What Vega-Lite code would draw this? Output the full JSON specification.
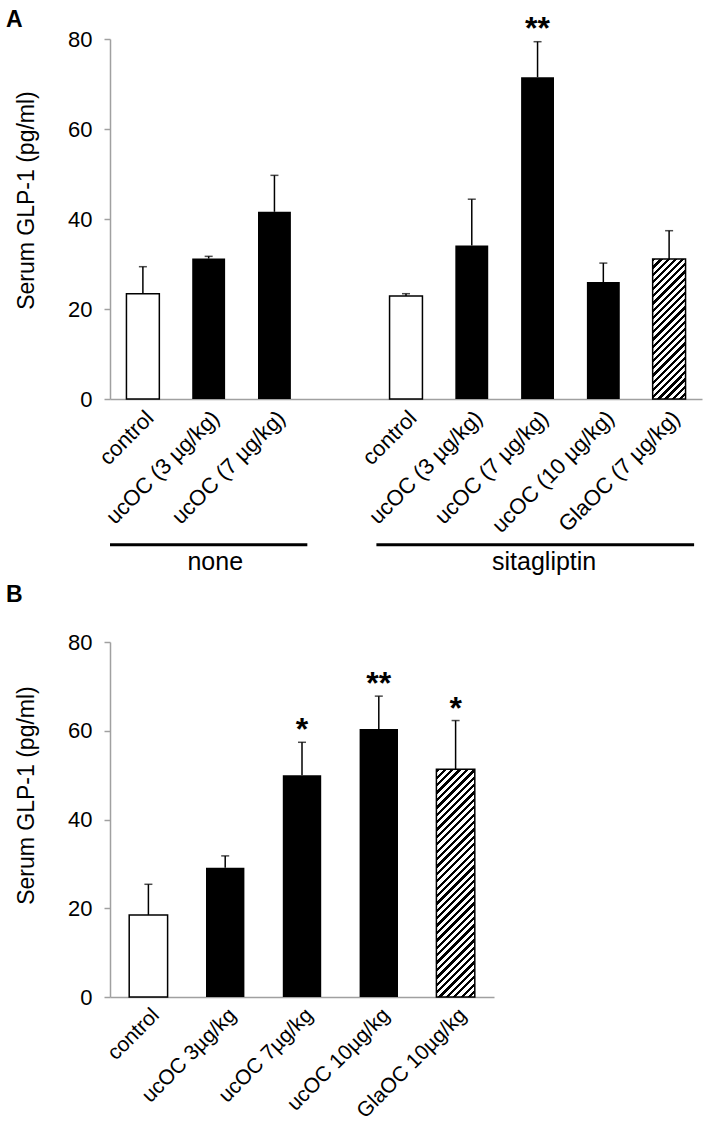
{
  "$schema": "https://vega.github.io/schema/vega-lite/v6.json",
  "padding": {"left": 6, "top": 8, "right": 5, "bottom": 5},
  "spacing": 9,
  "config": {
    "view": {"stroke": null},
    "font": "Liberation Sans",
    "axis": {
      "labelFont": "Liberation Sans", "titleFont": "Liberation Sans",
      "labelColor": "black", "titleColor": "black",
      "labelFontSize": 22, "titleFontSize": 23, "titleFontWeight": "normal",
      "domainColor": "#a0a0a0", "tickColor": "#a0a0a0",
      "domainWidth": 1.5, "tickWidth": 1.5, "grid": false
    },
    "title": {"font": "Liberation Sans", "fontSize": 23, "fontWeight": "bold", "color": "black"}
  },
  "datasets": {
    "panelA": [
      {"treatment": "none|control", "group": "none", "kind": "open", "mean": 23.4, "err": 29.4, "sig": ""},
      {"treatment": "none|ucOC (3 µg/kg)", "group": "none", "kind": "solid", "mean": 31.2, "err": 31.7, "sig": ""},
      {"treatment": "none|ucOC (7 µg/kg)", "group": "none", "kind": "solid", "mean": 41.6, "err": 49.7, "sig": ""},
      {"treatment": "sitagliptin|control", "group": "sitagliptin", "kind": "open", "mean": 22.9, "err": 23.4, "sig": ""},
      {"treatment": "sitagliptin|ucOC (3 µg/kg)", "group": "sitagliptin", "kind": "solid", "mean": 34.1, "err": 44.4, "sig": ""},
      {"treatment": "sitagliptin|ucOC (7 µg/kg)", "group": "sitagliptin", "kind": "solid", "mean": 71.5, "err": 79.4, "sig": "**"},
      {"treatment": "sitagliptin|ucOC (10 µg/kg)", "group": "sitagliptin", "kind": "solid", "mean": 26.0, "err": 30.2, "sig": ""},
      {"treatment": "sitagliptin|GlaOC (7 µg/kg)", "group": "sitagliptin", "kind": "hatched", "mean": 31.1, "err": 37.4, "sig": ""}
    ],
    "groupsA": [
      {"group": "none", "start": 0, "end": 3, "mid": 1.6},
      {"group": "sitagliptin", "start": 4.05, "end": 8.88, "mid": 6.6}
    ],
    "panelB": [
      {"treatment": "control", "kind": "open", "mean": 18.5, "err": 25.4, "sig": ""},
      {"treatment": "ucOC 3µg/kg", "kind": "solid", "mean": 29.1, "err": 31.8, "sig": ""},
      {"treatment": "ucOC 7µg/kg", "kind": "solid", "mean": 50.0, "err": 57.4, "sig": "*"},
      {"treatment": "ucOC 10µg/kg", "kind": "solid", "mean": 60.4, "err": 67.8, "sig": "**"},
      {"treatment": "GlaOC 10µg/kg", "kind": "hatched", "mean": 51.3, "err": 62.3, "sig": "*"}
    ]
  },
  "vconcat": [
    {
      "width": 592, "height": 360,
      "title": {"text": "A", "anchor": "start", "frame": "group", "dx": -104, "offset": -19},
      "layer": [
        {
          "data": {"name": "panelA"},
          "encoding": {
            "x": {
              "field": "treatment", "type": "nominal",
              "scale": {
                "domain": ["none|control", "none|ucOC (3 µg/kg)", "none|ucOC (7 µg/kg)", "gap|", "sitagliptin|control", "sitagliptin|ucOC (3 µg/kg)", "sitagliptin|ucOC (7 µg/kg)", "sitagliptin|ucOC (10 µg/kg)", "sitagliptin|GlaOC (7 µg/kg)"],
                "paddingInner": 0.5, "paddingOuter": 0.25
              },
              "axis": {
                "title": null, "labelAngle": -45, "ticks": false, "labelPadding": 8, "labelLimit": 400,
                "labelExpr": "substring(datum.value, indexof(datum.value, '|') + 1)"
              }
            },
            "y": {
              "field": "mean", "type": "quantitative",
              "scale": {"domain": [0, 80], "nice": false},
              "axis": {"title": "Serum GLP-1 (pg/ml)", "values": [0, 20, 40, 60, 80], "tickSize": 6, "labelPadding": 12, "titlePadding": 29, "titleY": 161}
            }
          },
          "layer": [
            {"transform": [{"filter": "datum.kind === 'open'"}], "mark": {"type": "bar", "fill": "white", "stroke": "black", "strokeWidth": 1.5}},
            {"transform": [{"filter": "datum.kind === 'solid'"}], "mark": {"type": "bar", "fill": "black"}},
            {"transform": [{"filter": "datum.kind === 'hatched'"}], "mark": {"type": "bar", "stroke": "black", "strokeWidth": 1.5,
              "fill": {"gradient": "linear", "x1": 0, "y1": 0, "x2": 0.2752, "y2": 1.1705, "stops": [
                {"offset": 0, "color": "#000"}, {"offset": 0.01875, "color": "#000"}, {"offset": 0.01875, "color": "#fff"}, {"offset": 0.041667, "color": "#fff"},
                {"offset": 0.041667, "color": "#000"}, {"offset": 0.060417, "color": "#000"}, {"offset": 0.060417, "color": "#fff"}, {"offset": 0.083333, "color": "#fff"},
                {"offset": 0.083333, "color": "#000"}, {"offset": 0.102083, "color": "#000"}, {"offset": 0.102083, "color": "#fff"}, {"offset": 0.125, "color": "#fff"},
                {"offset": 0.125, "color": "#000"}, {"offset": 0.14375, "color": "#000"}, {"offset": 0.14375, "color": "#fff"}, {"offset": 0.166667, "color": "#fff"},
                {"offset": 0.166667, "color": "#000"}, {"offset": 0.185417, "color": "#000"}, {"offset": 0.185417, "color": "#fff"}, {"offset": 0.208333, "color": "#fff"},
                {"offset": 0.208333, "color": "#000"}, {"offset": 0.227083, "color": "#000"}, {"offset": 0.227083, "color": "#fff"}, {"offset": 0.25, "color": "#fff"},
                {"offset": 0.25, "color": "#000"}, {"offset": 0.26875, "color": "#000"}, {"offset": 0.26875, "color": "#fff"}, {"offset": 0.291667, "color": "#fff"},
                {"offset": 0.291667, "color": "#000"}, {"offset": 0.310417, "color": "#000"}, {"offset": 0.310417, "color": "#fff"}, {"offset": 0.333333, "color": "#fff"},
                {"offset": 0.333333, "color": "#000"}, {"offset": 0.352083, "color": "#000"}, {"offset": 0.352083, "color": "#fff"}, {"offset": 0.375, "color": "#fff"},
                {"offset": 0.375, "color": "#000"}, {"offset": 0.39375, "color": "#000"}, {"offset": 0.39375, "color": "#fff"}, {"offset": 0.416667, "color": "#fff"},
                {"offset": 0.416667, "color": "#000"}, {"offset": 0.435417, "color": "#000"}, {"offset": 0.435417, "color": "#fff"}, {"offset": 0.458333, "color": "#fff"},
                {"offset": 0.458333, "color": "#000"}, {"offset": 0.477083, "color": "#000"}, {"offset": 0.477083, "color": "#fff"}, {"offset": 0.5, "color": "#fff"},
                {"offset": 0.5, "color": "#000"}, {"offset": 0.51875, "color": "#000"}, {"offset": 0.51875, "color": "#fff"}, {"offset": 0.541667, "color": "#fff"},
                {"offset": 0.541667, "color": "#000"}, {"offset": 0.560417, "color": "#000"}, {"offset": 0.560417, "color": "#fff"}, {"offset": 0.583333, "color": "#fff"},
                {"offset": 0.583333, "color": "#000"}, {"offset": 0.602083, "color": "#000"}, {"offset": 0.602083, "color": "#fff"}, {"offset": 0.625, "color": "#fff"},
                {"offset": 0.625, "color": "#000"}, {"offset": 0.64375, "color": "#000"}, {"offset": 0.64375, "color": "#fff"}, {"offset": 0.666667, "color": "#fff"},
                {"offset": 0.666667, "color": "#000"}, {"offset": 0.685417, "color": "#000"}, {"offset": 0.685417, "color": "#fff"}, {"offset": 0.708333, "color": "#fff"},
                {"offset": 0.708333, "color": "#000"}, {"offset": 0.727083, "color": "#000"}, {"offset": 0.727083, "color": "#fff"}, {"offset": 0.75, "color": "#fff"},
                {"offset": 0.75, "color": "#000"}, {"offset": 0.76875, "color": "#000"}, {"offset": 0.76875, "color": "#fff"}, {"offset": 0.791667, "color": "#fff"},
                {"offset": 0.791667, "color": "#000"}, {"offset": 0.810417, "color": "#000"}, {"offset": 0.810417, "color": "#fff"}, {"offset": 0.833333, "color": "#fff"},
                {"offset": 0.833333, "color": "#000"}, {"offset": 0.852083, "color": "#000"}, {"offset": 0.852083, "color": "#fff"}, {"offset": 0.875, "color": "#fff"},
                {"offset": 0.875, "color": "#000"}, {"offset": 0.89375, "color": "#000"}, {"offset": 0.89375, "color": "#fff"}, {"offset": 0.916667, "color": "#fff"},
                {"offset": 0.916667, "color": "#000"}, {"offset": 0.935417, "color": "#000"}, {"offset": 0.935417, "color": "#fff"}, {"offset": 0.958333, "color": "#fff"},
                {"offset": 0.958333, "color": "#000"}, {"offset": 0.977083, "color": "#000"}, {"offset": 0.977083, "color": "#fff"}, {"offset": 1, "color": "#fff"}
              ]}}},
            {"mark": {"type": "rule", "color": "black", "strokeWidth": 1.5}, "encoding": {"y2": {"field": "err"}}},
            {"mark": {"type": "tick", "color": "black", "size": 8, "thickness": 1.5}, "encoding": {"y": {"field": "err", "type": "quantitative"}}},
            {"mark": {"type": "text", "fontSize": 32, "fontWeight": "bold", "baseline": "alphabetic", "dy": -3, "color": "black"}, "encoding": {"y": {"field": "err", "type": "quantitative"}, "text": {"field": "sig"}}}
          ]
        },
        {
          "data": {"name": "groupsA"},
          "encoding": {
            "x": {"field": "start", "type": "quantitative", "scale": {"domain": [0, 9], "nice": false, "zero": false}, "axis": null}
          },
          "layer": [
            {"mark": {"type": "rule", "color": "black", "strokeWidth": 3}, "encoding": {"x2": {"field": "end"}, "y": {"datum": -32.4, "type": "quantitative", "scale": {"domain": [0, 80]}}}},
            {"mark": {"type": "text", "fontSize": 25, "baseline": "alphabetic", "color": "black"}, "encoding": {"x": {"field": "mid", "type": "quantitative"}, "y": {"datum": -38, "type": "quantitative", "scale": {"domain": [0, 80]}}, "text": {"field": "group"}}}
          ]
        }
      ],
      "resolve": {"scale": {"x": "independent"}, "axis": {"x": "independent"}}
    },
    {
      "width": 384, "height": 355,
      "title": {"text": "B", "anchor": "start", "frame": "group", "dx": -104, "offset": 24},
      "data": {"name": "panelB"},
      "encoding": {
        "x": {
          "field": "treatment", "type": "nominal", "sort": null,
          "scale": {"paddingInner": 0.5, "paddingOuter": 0.25},
          "axis": {"title": null, "labelAngle": -45, "ticks": false, "labelPadding": 7, "labelLimit": 400, "labelFontSize": 21}
        },
        "y": {
          "field": "mean", "type": "quantitative",
          "scale": {"domain": [0, 80], "nice": false},
          "axis": {"title": "Serum GLP-1 (pg/ml)", "values": [0, 20, 40, 60, 80], "tickSize": 6, "labelPadding": 12, "titlePadding": 29, "titleY": 153}
        }
      },
      "layer": [
        {"transform": [{"filter": "datum.kind === 'open'"}], "mark": {"type": "bar", "fill": "white", "stroke": "black", "strokeWidth": 1.5}},
        {"transform": [{"filter": "datum.kind === 'solid'"}], "mark": {"type": "bar", "fill": "black"}},
        {"transform": [{"filter": "datum.kind === 'hatched'"}], "mark": {"type": "bar", "stroke": "black", "strokeWidth": 1.5,
          "fill": {"gradient": "linear", "x1": 0, "y1": 0, "x2": 0.1917, "y2": 1.1364, "stops": [
            {"offset": 0, "color": "#000"}, {"offset": 0.0125, "color": "#000"}, {"offset": 0.0125, "color": "#fff"}, {"offset": 0.02778, "color": "#fff"},
            {"offset": 0.02778, "color": "#000"}, {"offset": 0.04028, "color": "#000"}, {"offset": 0.04028, "color": "#fff"}, {"offset": 0.05556, "color": "#fff"},
            {"offset": 0.05556, "color": "#000"}, {"offset": 0.06806, "color": "#000"}, {"offset": 0.06806, "color": "#fff"}, {"offset": 0.08333, "color": "#fff"},
            {"offset": 0.08333, "color": "#000"}, {"offset": 0.09583, "color": "#000"}, {"offset": 0.09583, "color": "#fff"}, {"offset": 0.11111, "color": "#fff"},
            {"offset": 0.11111, "color": "#000"}, {"offset": 0.12361, "color": "#000"}, {"offset": 0.12361, "color": "#fff"}, {"offset": 0.13889, "color": "#fff"},
            {"offset": 0.13889, "color": "#000"}, {"offset": 0.15139, "color": "#000"}, {"offset": 0.15139, "color": "#fff"}, {"offset": 0.16667, "color": "#fff"},
            {"offset": 0.16667, "color": "#000"}, {"offset": 0.17917, "color": "#000"}, {"offset": 0.17917, "color": "#fff"}, {"offset": 0.19444, "color": "#fff"},
            {"offset": 0.19444, "color": "#000"}, {"offset": 0.20694, "color": "#000"}, {"offset": 0.20694, "color": "#fff"}, {"offset": 0.22222, "color": "#fff"},
            {"offset": 0.22222, "color": "#000"}, {"offset": 0.23472, "color": "#000"}, {"offset": 0.23472, "color": "#fff"}, {"offset": 0.25, "color": "#fff"},
            {"offset": 0.25, "color": "#000"}, {"offset": 0.2625, "color": "#000"}, {"offset": 0.2625, "color": "#fff"}, {"offset": 0.27778, "color": "#fff"},
            {"offset": 0.27778, "color": "#000"}, {"offset": 0.29028, "color": "#000"}, {"offset": 0.29028, "color": "#fff"}, {"offset": 0.30556, "color": "#fff"},
            {"offset": 0.30556, "color": "#000"}, {"offset": 0.31806, "color": "#000"}, {"offset": 0.31806, "color": "#fff"}, {"offset": 0.33333, "color": "#fff"},
            {"offset": 0.33333, "color": "#000"}, {"offset": 0.34583, "color": "#000"}, {"offset": 0.34583, "color": "#fff"}, {"offset": 0.36111, "color": "#fff"},
            {"offset": 0.36111, "color": "#000"}, {"offset": 0.37361, "color": "#000"}, {"offset": 0.37361, "color": "#fff"}, {"offset": 0.38889, "color": "#fff"},
            {"offset": 0.38889, "color": "#000"}, {"offset": 0.40139, "color": "#000"}, {"offset": 0.40139, "color": "#fff"}, {"offset": 0.41667, "color": "#fff"},
            {"offset": 0.41667, "color": "#000"}, {"offset": 0.42917, "color": "#000"}, {"offset": 0.42917, "color": "#fff"}, {"offset": 0.44444, "color": "#fff"},
            {"offset": 0.44444, "color": "#000"}, {"offset": 0.45694, "color": "#000"}, {"offset": 0.45694, "color": "#fff"}, {"offset": 0.47222, "color": "#fff"},
            {"offset": 0.47222, "color": "#000"}, {"offset": 0.48472, "color": "#000"}, {"offset": 0.48472, "color": "#fff"}, {"offset": 0.5, "color": "#fff"},
            {"offset": 0.5, "color": "#000"}, {"offset": 0.5125, "color": "#000"}, {"offset": 0.5125, "color": "#fff"}, {"offset": 0.52778, "color": "#fff"},
            {"offset": 0.52778, "color": "#000"}, {"offset": 0.54028, "color": "#000"}, {"offset": 0.54028, "color": "#fff"}, {"offset": 0.55556, "color": "#fff"},
            {"offset": 0.55556, "color": "#000"}, {"offset": 0.56806, "color": "#000"}, {"offset": 0.56806, "color": "#fff"}, {"offset": 0.58333, "color": "#fff"},
            {"offset": 0.58333, "color": "#000"}, {"offset": 0.59583, "color": "#000"}, {"offset": 0.59583, "color": "#fff"}, {"offset": 0.61111, "color": "#fff"},
            {"offset": 0.61111, "color": "#000"}, {"offset": 0.62361, "color": "#000"}, {"offset": 0.62361, "color": "#fff"}, {"offset": 0.63889, "color": "#fff"},
            {"offset": 0.63889, "color": "#000"}, {"offset": 0.65139, "color": "#000"}, {"offset": 0.65139, "color": "#fff"}, {"offset": 0.66667, "color": "#fff"},
            {"offset": 0.66667, "color": "#000"}, {"offset": 0.67917, "color": "#000"}, {"offset": 0.67917, "color": "#fff"}, {"offset": 0.69444, "color": "#fff"},
            {"offset": 0.69444, "color": "#000"}, {"offset": 0.70694, "color": "#000"}, {"offset": 0.70694, "color": "#fff"}, {"offset": 0.72222, "color": "#fff"},
            {"offset": 0.72222, "color": "#000"}, {"offset": 0.73472, "color": "#000"}, {"offset": 0.73472, "color": "#fff"}, {"offset": 0.75, "color": "#fff"},
            {"offset": 0.75, "color": "#000"}, {"offset": 0.7625, "color": "#000"}, {"offset": 0.7625, "color": "#fff"}, {"offset": 0.77778, "color": "#fff"},
            {"offset": 0.77778, "color": "#000"}, {"offset": 0.79028, "color": "#000"}, {"offset": 0.79028, "color": "#fff"}, {"offset": 0.80556, "color": "#fff"},
            {"offset": 0.80556, "color": "#000"}, {"offset": 0.81806, "color": "#000"}, {"offset": 0.81806, "color": "#fff"}, {"offset": 0.83333, "color": "#fff"},
            {"offset": 0.83333, "color": "#000"}, {"offset": 0.84583, "color": "#000"}, {"offset": 0.84583, "color": "#fff"}, {"offset": 0.86111, "color": "#fff"},
            {"offset": 0.86111, "color": "#000"}, {"offset": 0.87361, "color": "#000"}, {"offset": 0.87361, "color": "#fff"}, {"offset": 0.88889, "color": "#fff"},
            {"offset": 0.88889, "color": "#000"}, {"offset": 0.90139, "color": "#000"}, {"offset": 0.90139, "color": "#fff"}, {"offset": 0.91667, "color": "#fff"},
            {"offset": 0.91667, "color": "#000"}, {"offset": 0.92917, "color": "#000"}, {"offset": 0.92917, "color": "#fff"}, {"offset": 0.94444, "color": "#fff"},
            {"offset": 0.94444, "color": "#000"}, {"offset": 0.95694, "color": "#000"}, {"offset": 0.95694, "color": "#fff"}, {"offset": 0.97222, "color": "#fff"},
            {"offset": 0.97222, "color": "#000"}, {"offset": 0.98472, "color": "#000"}, {"offset": 0.98472, "color": "#fff"}, {"offset": 1, "color": "#fff"}
          ]}}},
        {"mark": {"type": "rule", "color": "black", "strokeWidth": 1.5}, "encoding": {"y2": {"field": "err"}}},
        {"mark": {"type": "tick", "color": "black", "size": 8, "thickness": 1.5}, "encoding": {"y": {"field": "err", "type": "quantitative"}}},
        {"mark": {"type": "text", "fontSize": 32, "fontWeight": "bold", "baseline": "alphabetic", "dy": -2, "color": "black"}, "encoding": {"y": {"field": "err", "type": "quantitative"}, "text": {"field": "sig"}}}
      ]
    }
  ]
}
